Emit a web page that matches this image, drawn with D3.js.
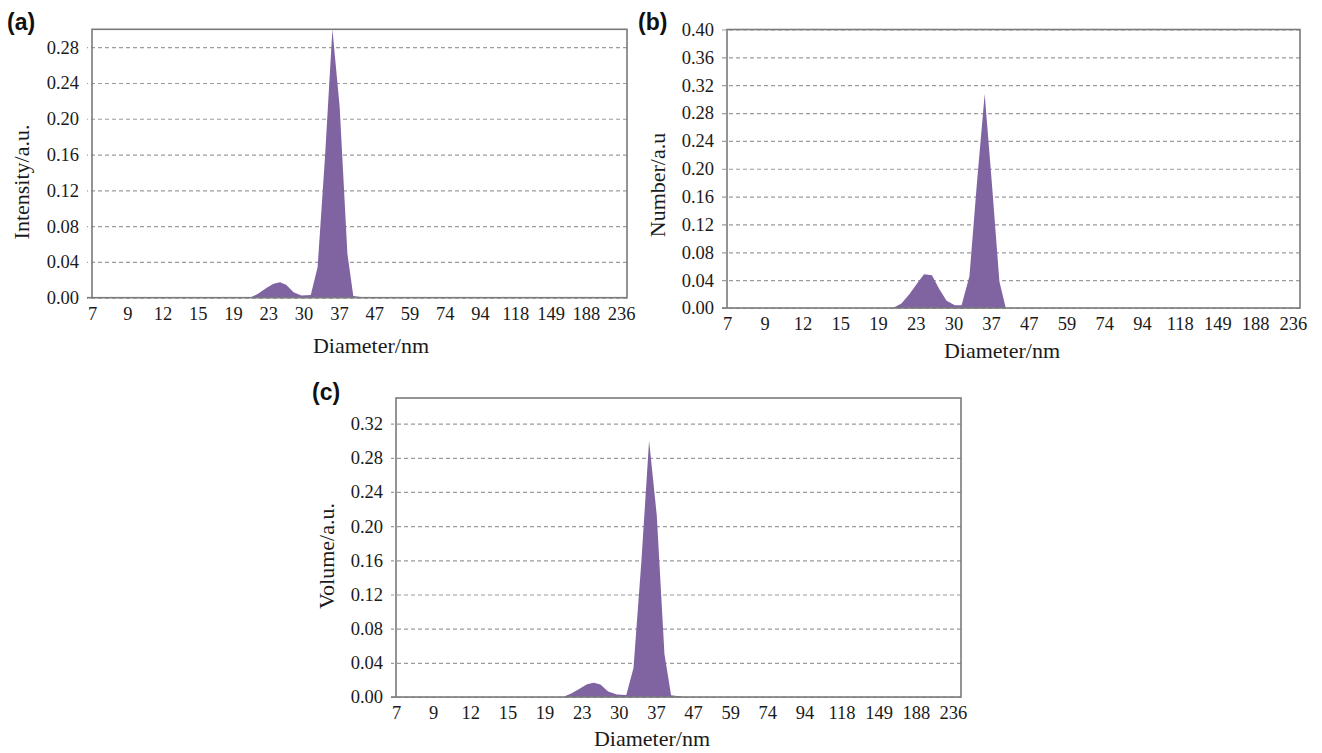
<!DOCTYPE html>
<html>
<head>
<meta charset="utf-8">
<script src="https://cdn.jsdelivr.net/npm/d3@7"></script>
<style>
  body { margin: 0; background: #fff; }
  svg { display: block; }
  .axis-title { font-family: "Liberation Serif", "Times New Roman", serif; font-size: 22px; fill: #1a1a1a; }
  .panel-label { font-family: "Liberation Sans", Arial, sans-serif; font-weight: bold; font-size: 23px; fill: #111; }
</style>
</head>
<body>
<div id="chart"></div>
<script>
// ********** DLS SIZE DISTRIBUTIONS (a) intensity, (b) number, (c) volume **********

// Diameter tick labels (nm), shared by all three panels
const xTickLabels = [7, 9, 12, 15, 19, 23, 30, 37, 47, 59, 74, 94, 118, 149, 188, 236];

// Y tick labels per panel
const intensityTicks = [0, 0.04, 0.08, 0.12, 0.16, 0.20, 0.24, 0.28];
const numberTicks = [0, 0.04, 0.08, 0.12, 0.16, 0.20, 0.24, 0.28, 0.32, 0.36, 0.40];
const volumeTicks = [0, 0.04, 0.08, 0.12, 0.16, 0.20, 0.24, 0.28, 0.32];

// (a) intensity distribution
const intensityDiam = [7, 20.8, 21.7, 22.8, 23.9, 25.1, 26.3, 27.8, 29.5, 31.3, 32.6, 34.1, 35.6, 37.2, 39.2, 40.8, 43.5, 236];
const intensityVal  = [0, 0, 0.004, 0.011, 0.0155, 0.0172, 0.0145, 0.006, 0.0025, 0.003, 0.034, 0.16, 0.30, 0.213, 0.049, 0.002, 0.0005, 0];

// (b) number distribution
const numberDiam = [7, 20.5, 21.4, 22.3, 23.2, 24.4, 25.8, 27.1, 28.6, 30.25, 31.4, 32.8, 34.2, 35.7, 37.3, 39.0, 40.6, 236];
const numberVal  = [0, 0, 0.0064, 0.02, 0.035, 0.0484, 0.047, 0.028, 0.0104, 0.004, 0.004, 0.0455, 0.18, 0.3075, 0.17, 0.038, 0, 0];

// (c) volume distribution
const volumeDiam = [7, 20.9, 21.8, 22.8, 23.9, 25.1, 26.3, 27.8, 29.6, 31.3, 32.6, 34.1, 35.6, 37.2, 39.1, 40.8, 44.5, 236];
const volumeVal  = [0, 0, 0.004, 0.010, 0.015, 0.0167, 0.0145, 0.0065, 0.003, 0.0023, 0.034, 0.16, 0.300, 0.213, 0.050, 0.002, 0, 0];

const fillColor = '#8064a2';
const tickFont = '"Liberation Serif", "Times New Roman", serif';

// Panel layout (positions only)
const panels = [
	{ id: '(a)', title: 'Intensity/a.u.', diam: intensityDiam, vals: intensityVal, yTicks: intensityTicks, yMax: 0.30,
	  left: 92, right: 627, top: 29.3, bottom: 297.7, step: 35.27,
	  label: [7, 30], xTitle: [371, 353], yTitle: [29, 182] },
	{ id: '(b)', title: 'Number/a.u', diam: numberDiam, vals: numberVal, yTicks: numberTicks, yMax: 0.40,
	  left: 727, right: 1300, top: 29.5, bottom: 308, step: 37.73,
	  label: [638, 30], xTitle: [1002, 358], yTitle: [665, 185] },
	{ id: '(c)', title: 'Volume/a.u.', diam: volumeDiam, vals: volumeVal, yTicks: volumeTicks, yMax: 0.35,
	  left: 396, right: 961, top: 398, bottom: 697, step: 37.13,
	  label: [312, 400], xTitle: [652, 746], yTitle: [334, 556] }
];

const svg = d3.select('#chart')
	.append('svg')
	.attr('width', 1322)
	.attr('height', 753);

svg.append('rect').attr('width', 1322).attr('height', 753).attr('fill', '#fff');

const renderPanel = (p) => {
	const g = svg.append('g').attr('class', 'panel');

	// Category-style log axis: tick labels equally spaced, log interpolation between them
	const x = d3.scaleLog()
		.domain(xTickLabels)
		.range(xTickLabels.map((d, i) => p.left + i * p.step));

	const y = d3.scaleLinear()
		.domain([0, p.yMax])
		.range([p.bottom, p.top]);

	// Gridlines + y labels (lines run from right border back past the axis as ticks)
	const yAxis = d3.axisLeft(y)
		.tickValues(p.yTicks)
		.tickFormat(d3.format('.2f'))
		.tickSize(p.right - p.left + 5)
		.tickPadding(8);

	const gy = g.append('g')
		.attr('transform', `translate(${p.right},0)`)
		.call(yAxis)
		.attr('font-family', tickFont)
		.attr('font-size', 18.5);
	gy.select('.domain').remove();
	gy.selectAll('.tick text').attr('fill', '#1a1a1a');
	gy.selectAll('.tick line')
		.attr('stroke', '#9c9c9c')
		.attr('stroke-width', 1.2)
		.attr('stroke-dasharray', '4,3');

	// Area
	const data = p.diam.map((d, i) => ({ d: d, v: p.vals[i] }));
	const area = d3.area()
		.x(d => x(d.d))
		.y0(y(0))
		.y1(d => y(d.v));

	g.append('path')
		.datum(data)
		.attr('fill', fillColor)
		.attr('d', area);

	// Plot border
	g.append('rect')
		.attr('x', p.left)
		.attr('y', p.top)
		.attr('width', p.right - p.left)
		.attr('height', p.bottom - p.top)
		.attr('fill', 'none')
		.attr('stroke', '#7a7a7a')
		.attr('stroke-width', 1.6);

	// Small solid tick at zero
	g.append('line')
		.attr('x1', p.left - 5).attr('x2', p.left)
		.attr('y1', y(0)).attr('y2', y(0))
		.attr('stroke', '#7a7a7a')
		.attr('stroke-width', 1.6);

	// X axis labels
	const xAxis = d3.axisBottom(x)
		.tickValues(xTickLabels)
		.tickFormat(d3.format('d'))
		.tickSize(0)
		.tickPadding(9);

	const gx = g.append('g')
		.attr('transform', `translate(0,${p.bottom})`)
		.call(xAxis)
		.attr('font-family', tickFont)
		.attr('font-size', 18.5);
	gx.select('.domain').remove();
	gx.selectAll('.tick text').attr('fill', '#1a1a1a');

	// Titles
	g.append('text')
		.attr('class', 'axis-title')
		.attr('x', p.xTitle[0])
		.attr('y', p.xTitle[1])
		.attr('text-anchor', 'middle')
		.text('Diameter/nm');

	g.append('text')
		.attr('class', 'axis-title')
		.attr('transform', `translate(${p.yTitle[0]},${p.yTitle[1]}) rotate(-90)`)
		.attr('text-anchor', 'middle')
		.text(p.title);

	g.append('text')
		.attr('class', 'panel-label')
		.attr('x', p.label[0])
		.attr('y', p.label[1])
		.text(p.id);
}

panels.forEach(renderPanel);
</script>
</body>
</html>
